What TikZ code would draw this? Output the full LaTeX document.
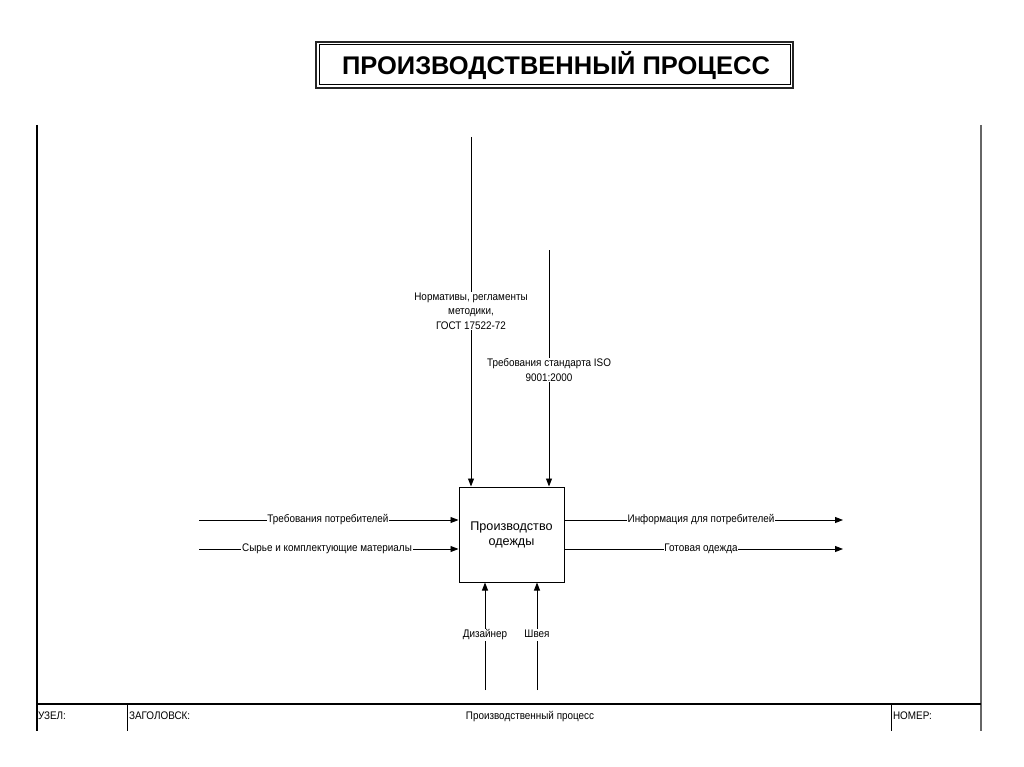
\documentclass[tikz,border=0pt]{standalone}
\usepackage{fontspec}
\setmainfont{Liberation Sans}
\usetikzlibrary{arrows.meta}
\begin{document}
\begin{tikzpicture}[x=1pt,y=-1pt,
  frame/.style={line width=1.4pt,black},
  arr/.style={line width=0.9pt,-{Triangle[length=8pt,width=6pt]}},
  lab/.style={fill=white,inner sep=1pt,font=\fontsize{11}{14.5}\selectfont,align=center,xscale=0.9},
  lab1/.style={lab,text height=8pt,text depth=2.5pt},
  small/.style={inner sep=1pt,font=\fontsize{11}{13}\selectfont,xscale=0.9,text height=8pt,text depth=2.5pt},
  proc/.style={draw,line width=1pt,minimum width=105pt,minimum height=95pt,align=center,font=\fontsize{12.6}{15}\selectfont}]
\useasboundingbox (0,0) rectangle (1024,767);
% title
\draw[line width=1.6pt,black!85] (316,42) rectangle (793,88);
\draw[line width=1pt] (319,45) rectangle (790,85);
\node[font=\bfseries\fontsize{25.5}{28}\selectfont] (title) at (556,65.5) {ПРОИЗВОДСТВЕННЫЙ ПРОЦЕСС};
% frame
\draw[frame] (37,125) -- (37,731);
\draw[line width=1.4pt,black!60] (981,125) -- (981,731);
\draw[frame] (37,704) -- (981,704);
\draw[line width=0.9pt] (127,704) -- (127,731);
\draw[line width=0.9pt] (891,704) -- (891,731);
\node[small,anchor=west] (uzel) at (37,717) {УЗЕЛ:};
\node[small,anchor=west] (zag) at (128,717) {ЗАГОЛОВСК:};
\node[small] (ftitle) at (530,717) {Производственный процесс};
\node[small,anchor=west] (nomer) at (892,717) {НОМЕР:};
% process box
\node[proc] (p) at (511.5,534.5) {Производство\\одежды};
% controls
\coordinate (c1) at (471,137);
\coordinate (c2) at (549,250);
\draw[arr] (c1) -- (c1 |- p.north);
\draw[arr] (c2) -- (c2 |- p.north);
\node[lab] (lc1) at (471,311) {Нормативы, регламенты\\методики,\\ГОСТ 17522-72};
\node[lab] (lc2) at (549,370) {Требования стандарта ISO\\9001:2000};
% inputs
\coordinate (i1) at (199,520);
\coordinate (i2) at (199,549);
\draw[arr] (i1) -- (i1 -| p.west);
\draw[arr] (i2) -- (i2 -| p.west);
\node[lab1] (li1) at (328,520) {Требования потребителей};
\node[lab1] (li2) at (327,549) {Сырье и комплектующие материалы};
% outputs
\coordinate (o1) at (843,520);
\coordinate (o2) at (843,549);
\draw[arr] (o1 -| p.east) -- (o1);
\draw[arr] (o2 -| p.east) -- (o2);
\node[lab1] (lo1) at (701,520) {Информация для потребителей};
\node[lab1] (lo2) at (701,549) {Готовая одежда};
% mechanisms
\coordinate (m1) at (485,690);
\coordinate (m2) at (537,690);
\draw[arr] (m1) -- (m1 |- p.south);
\draw[arr] (m2) -- (m2 |- p.south);
\node[lab1] (lm1) at (485,635) {Дизайнер};
\node[lab1] (lm2) at (537,635) {Швея};
\end{tikzpicture}
\end{document}
